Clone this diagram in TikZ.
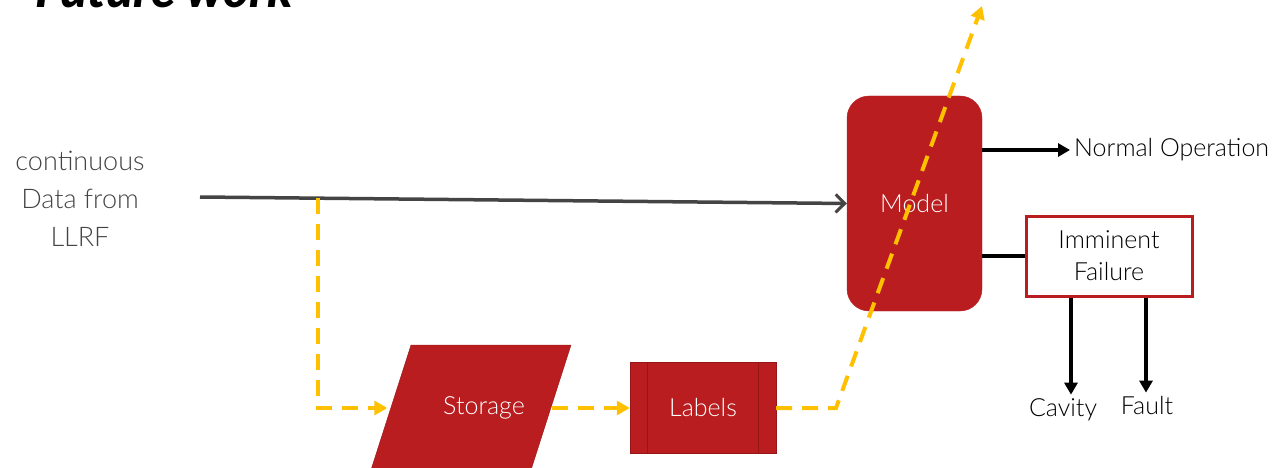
\documentclass[tikz,border=0pt]{standalone}
\usepackage{fontspec}
\setmainfont{Lato}[UprightFont=* Light, BoldFont=* Black, ItalicFont=* Light Italic, BoldItalicFont=* Black Italic]
\usetikzlibrary{positioning, arrows.meta}
\definecolor{boxred}{RGB}{186,29,31}
\definecolor{edgered}{RGB}{150,22,22}
\definecolor{flowyellow}{RGB}{255,192,0}
\definecolor{datagray}{RGB}{68,68,68}
\tikzset{
    x=1pt, y=-1pt, % pixel like coordinates, y going down
    plain/.style={font=\fontsize{25}{28}\selectfont, text=black, inner sep=4pt}, % plain labels
    modelbox/.style={fill=boxred, draw=boxred, rounded corners=22pt, minimum width=135pt, minimum height=215pt, text=white, font=\fontsize{25}{28}\selectfont},
    failbox/.style={fill=white, draw=boxred, line width=3pt, minimum width=166pt, minimum height=80pt, align=center, font=\fontsize{25}{32}\selectfont},
    storage/.style={minimum width=159pt, minimum height=128pt, text=white, font=\fontsize{25}{28}\selectfont}, % drawn as a slanted box below
    labelbox/.style={fill=boxred, draw=edgered, minimum width=146pt, minimum height=91pt, text=white, font=\fontsize{25}{28}\selectfont},
    dataline/.style={draw=datagray, line width=3.5pt, -{Straight Barb[length=9pt,width=18pt,line width=3pt]}}, % the data stream
    yellowflow/.style={draw=flowyellow, line width=4pt, dash pattern=on 16pt off 10pt}, % labelled data path
    yellowarrow/.style={yellowflow, -{Triangle[length=13pt,width=14pt]}},
    blackline/.style={draw=black, line width=4pt},
    blackarrow/.style={blackline, -{Triangle[length=12pt,width=13pt]}},
}
\begin{document}
\begin{tikzpicture}
    \useasboundingbox (0,0) rectangle (1276,468);
    % title, cut by the top edge
    \begin{scope}
        \clip (0,0) rectangle (1276,468);
        \node[anchor=base east, inner sep=0pt, font=\fontsize{50}{50}\selectfont\bfseries\itshape] (title) at (293,8) {Future work};
    \end{scope}

    \node[plain, text=datagray, align=center, font=\fontsize{27}{38}\selectfont] (src) at (80,199) {continuous\\Data from\\LLRF};
    \coordinate (start) at (200,197);
    \node[modelbox] (model) at (914.5,203.5) {Model};
    \node[plain, anchor=west] (normal) at (1070,150) {Normal Operation};
    \node[failbox] (fail) at (1109,256) {Imminent\\Failure};
    \node[plain] (cavity) at (1063,410) {Cavity};
    \node[plain] (fault) at (1147,406) {Fault};
    \fill[boxred, draw=edgered] (411,345) -- (571,345) -- (530,473) -- (370,473) -- cycle;
    \node[storage] (storage) at (484,408) {Storage};
    \node[labelbox] (labels) at (703,408) {Labels};
    \draw[edgered] ([xshift=17pt]labels.north west) -- ([xshift=17pt]labels.south west)
                   ([xshift=-18pt]labels.north east) -- ([xshift=-18pt]labels.south east);
    \coordinate (branch) at (318,198);
    \coordinate (bend) at (836,408);
    \coordinate (up) at (982,6);

    % connectors
    \draw[dataline] (start) -- (model.west);
    \draw[blackarrow] (model.east |- normal) -- (normal);
    \draw[blackline] (model.east |- fail) -- (fail);
    \draw[blackarrow] ([xshift=-38pt]fail.south) -- ([xshift=8pt]cavity.north);
    \draw[blackarrow] ([xshift=37pt]fail.south) -- ([xshift=-1pt]fault.north);
    \draw[yellowarrow] (branch) |- ([xshift=-17pt]storage.west);
    \draw[yellowarrow] ([xshift=-12pt]storage.east) -- (labels.west);
    \draw[yellowarrow] (labels.east) -- (bend) -- (up);
\end{tikzpicture}
\end{document}
